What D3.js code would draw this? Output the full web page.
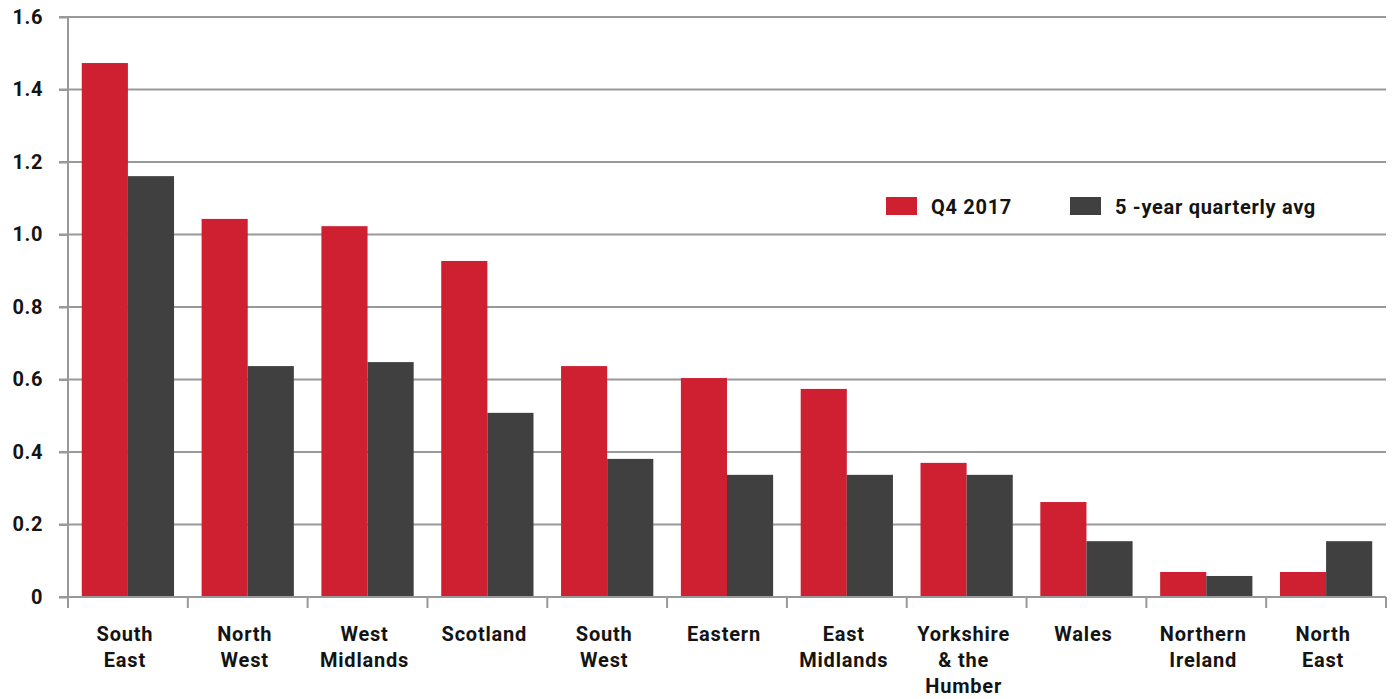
<!DOCTYPE html>
<html><head><meta charset="utf-8">
<script src="https://cdn.jsdelivr.net/npm/d3@7"></script>
<style>body{margin:0;background:#fff}svg{display:block}text{font-family:Roboto,"Liberation Sans",sans-serif;font-weight:bold;fill:#141414}</style>
</head><body>
<svg id="c" width="1394" height="699"></svg>
<script>
const categories = ["South East","North West","West Midlands","Scotland","South West","Eastern","East Midlands","Yorkshire & the Humber","Wales","Northern Ireland","North East"];
const categoryLines = [["South","East"],["North","West"],["West","Midlands"],["Scotland"],["South","West"],["Eastern"],["East","Midlands"],["Yorkshire","& the","Humber"],["Wales"],["Northern","Ireland"],["North","East"]];
const q42017 = [1.473,1.043,1.023,0.927,0.637,0.604,0.574,0.370,0.262,0.069,0.069];
const avg5yr = [1.161,0.637,0.648,0.508,0.381,0.337,0.337,0.337,0.154,0.058,0.154];
const yTicks = [0,0.2,0.4,0.6,0.8,1.0,1.2,1.4,1.6];
const yTickLabels = ["0","0.2","0.4","0.6","0.8","1.0","1.2","1.4","1.6"];
const seriesNames = ["Q4 2017","5 -year quarterly avg"];
const colors = ["#CE2031","#404040"];

(function(){
const svg = d3.select("#c");
const mLeft = 68, mRight = 1386, mTop = 17, mBottom = 597;
const x = d3.scaleBand().domain(categories).range([mLeft, mRight]).paddingInner(0.23).paddingOuter(0.115);
const xBand = d3.scaleBand().domain(categories).range([mLeft, mRight]);
const xs = d3.scaleBand().domain([0,1]).range([0, x.bandwidth()]);
const y = d3.scaleLinear().domain([0,1.6]).range([mBottom, mTop]);

// gridlines
svg.append("g").selectAll("line").data(yTicks.filter(d=>d>0)).join("line")
  .attr("x1", 59).attr("x2", mRight).attr("y1", d=>y(d)).attr("y2", d=>y(d))
  .attr("stroke", "#999").attr("stroke-width", 2);

// y axis
const yAxis = d3.axisLeft(y).tickValues(yTicks).tickFormat((d,i)=>yTickLabels[i]).tickSize(9).tickPadding(16);
const yg = svg.append("g").attr("transform", `translate(${mLeft},0)`).call(yAxis);
yg.select(".domain").attr("stroke","#999").attr("stroke-width",2).attr("d",`M0,${mTop}V${mBottom+11}`);
yg.selectAll(".tick line").attr("stroke","#999").attr("stroke-width",2);
yg.selectAll(".tick text").style("font-size","20px").style("letter-spacing","0.6px").attr("fill","#141414").style("font-family","Roboto,sans-serif").style("font-weight","bold");

// bars
const series = [q42017, avg5yr];
series.forEach((vals, si) => {
  svg.append("g").selectAll("rect").data(vals).join("rect")
    .attr("x", (d,i)=> x(categories[i]) + xs(si))
    .attr("width", xs.bandwidth())
    .attr("y", d=>y(d))
    .attr("height", d=> y(0)-y(d))
    .attr("fill", colors[si]);
});

// x axis
const xg = svg.append("g").attr("transform", `translate(0,${mBottom})`);
xg.append("line").attr("x1",59).attr("x2",mRight).attr("y1",0).attr("y2",0).attr("stroke","#999").attr("stroke-width",2);
const bounds = categories.map(c=>xBand(c)).concat([mRight]);
xg.selectAll("line.tk").data(bounds).join("line").attr("class","tk")
  .attr("x1",d=>d).attr("x2",d=>d).attr("y1",0).attr("y2",11).attr("stroke","#999").attr("stroke-width",2);

// category labels
categories.forEach((c,i)=>{
  const cx = xBand(c) + xBand.bandwidth()/2 - 3;
  const t = svg.append("text").attr("x", cx).attr("y", 641).attr("text-anchor","middle").style("font-size","20px").style("letter-spacing","0.8px");
  categoryLines[i].forEach((ln,j)=> t.append("tspan").attr("x",cx).attr("dy", j===0?0:26).text(ln));
});

// legend
const legendX = [886, 1070];
seriesNames.forEach((n,i)=>{
  svg.append("rect").attr("x",legendX[i]).attr("y",197).attr("width",31).attr("height",18).attr("fill",colors[i]);
  svg.append("text").attr("x",legendX[i]+45).attr("y",214).style("font-size","20px").style("letter-spacing","0.7px").text(n);
});
})();
</script>
</body></html>
